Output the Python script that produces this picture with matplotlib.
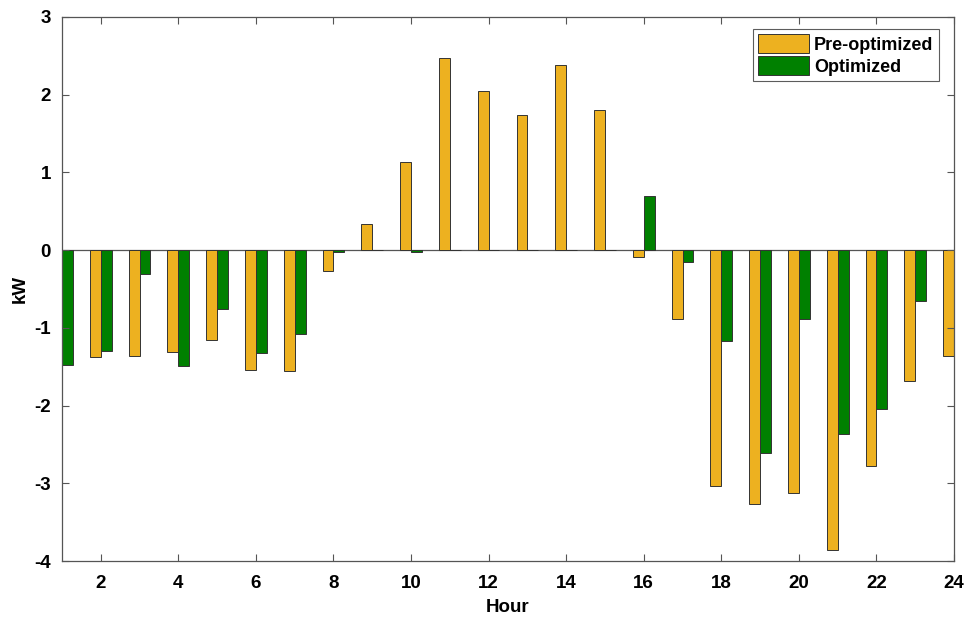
import numpy as np
import matplotlib.pyplot as plt

plt.rcParams['font.family'] = ['Liberation Sans', 'DejaVu Sans']
plt.rcParams['font.weight'] = 'bold'
plt.rcParams['axes.unicode_minus'] = False

# hourly net power, kW
hours = np.arange(1, 25)
pre_opt = [-1.40, -1.38, -1.36, -1.31, -1.15, -1.54, -1.56, -0.27, 0.34, 1.14, 2.47, 2.05,
           1.74, 2.38, 1.80, -0.09, -0.88, -3.03, -3.27, -3.12, -3.86, -2.78, -1.69, -1.36]
opt = [-1.48, -1.30, -0.31, -1.49, -0.76, -1.32, -1.08, -0.03, 0.00, -0.03, 0.00, 0.00,
       0.00, 0.00, 0.00, 0.70, -0.15, -1.17, -2.61, -0.88, -2.36, -2.05, -0.66, -0.40]

orange = '#EDB120'
green = '#008000'
w = 0.28

fig = plt.figure(figsize=(9.65, 6.18), dpi=100)
ax = fig.add_axes([0.0642, 0.0922, 0.9244, 0.8803])

ax.bar(hours - w / 2, pre_opt, width=w, color=orange, edgecolor='#333333',
       linewidth=0.7, label='Pre-optimized')
ax.bar(hours + w / 2, opt, width=w, color=green, edgecolor='#333333',
       linewidth=0.7, label='Optimized')
ax.axhline(0, color='#555555', linewidth=0.9, zorder=0.5)

ax.set_xlim(1, 24)
ax.set_ylim(-4, 3)
ax.set_xticks(np.arange(2, 25, 2))
ax.set_yticks(np.arange(-4, 4, 1))
ax.tick_params(direction='in', top=True, right=True, length=5, width=0.8,
               color='#555555', labelsize=13.5)
ax.tick_params(axis='x', pad=10)
ax.tick_params(axis='y', pad=8)
for s in ax.spines.values():
    s.set_color('#555555')
    s.set_linewidth(0.9)

ax.set_xlabel('Hour', fontsize=13.5, fontweight='bold', labelpad=5)
ax.set_ylabel('kW', fontsize=13.5, fontweight='bold', labelpad=4)

leg = ax.legend(loc='upper right', fontsize=13, frameon=True, fancybox=False,
                edgecolor='#333333', handlelength=2.8, handleheight=1.2,
                handletextpad=0.3, labelspacing=0.15, borderpad=0.3,
                bbox_to_anchor=(0.993, 0.995))
leg.get_frame().set_linewidth(0.8)

fig.savefig('out.png', dpi=100)
